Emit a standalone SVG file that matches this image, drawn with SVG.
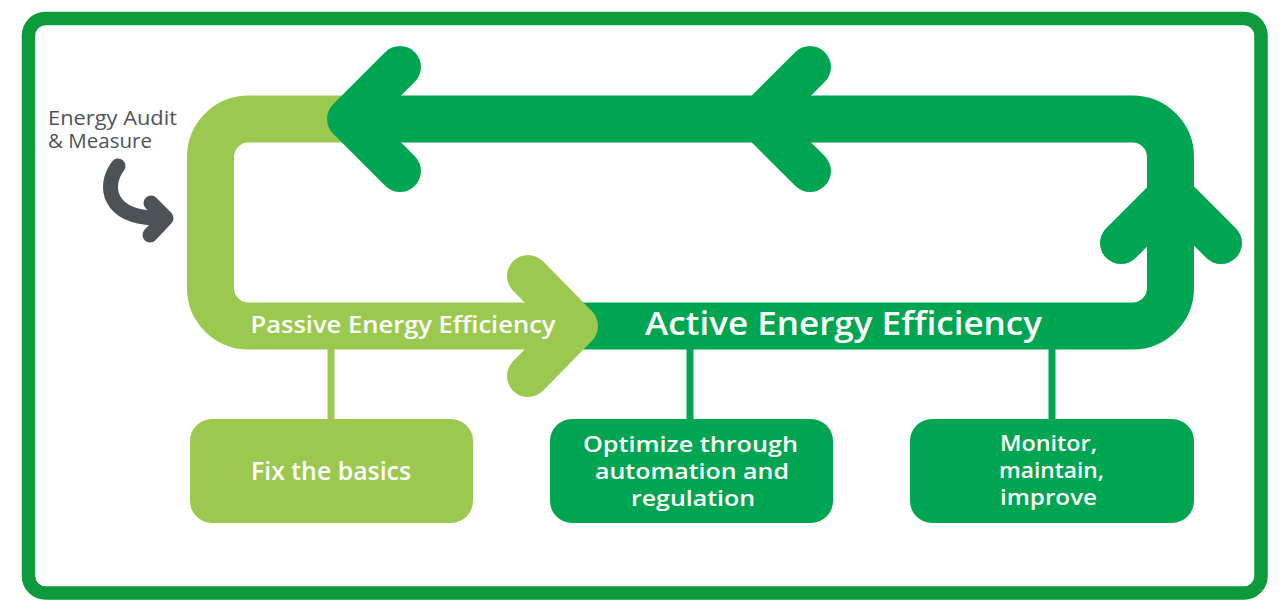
<svg xmlns="http://www.w3.org/2000/svg" width="1283" height="615" viewBox="0 0 1283 615">
  <defs>
    <style>
      .band { fill: none; stroke-width: 47; stroke-linejoin: round; }
      .chev { fill: none; stroke-width: 42; stroke-linecap: round; stroke-linejoin: round; }
      .light { stroke: #9bc94f; }
      .dark { stroke: #00a551; }
      .conn { stroke-width: 7; fill: none; }
      .box-l { fill: #9bc94f; }
      .box-d { fill: #00a551; }
      .t { font-family: "Open Sans", "Liberation Sans", sans-serif; fill: #ffffff; text-anchor: middle; font-weight: 600; }
      .gray { font-family: "Open Sans", "Liberation Sans", sans-serif; fill: #4f5358; font-size: 20px; font-weight: 500; }
    </style>
  </defs>
  <rect width="1283" height="615" fill="#ffffff"/>
  <rect id="frame" x="28.5" y="18.5" width="1232.5" height="574.5" rx="17" ry="17" fill="none" stroke="#0d9a3a" stroke-width="13.5"/>

  <g id="connectors">
    <line class="conn light" x1="331" y1="340" x2="331" y2="425"/>
    <line class="conn dark" x1="690" y1="340" x2="690" y2="425"/>
    <line class="conn dark" x1="1052" y1="340" x2="1052" y2="425"/>
  </g>

  <g id="loop">
    <path class="band light" d="M 352 119 H 248.5 A 38 38 0 0 0 210.5 157 V 288 A 38 38 0 0 0 248.5 326 H 575"/>
    <path class="band dark" d="M 560 326 H 1132.5 A 38 38 0 0 0 1170.5 288 V 157 A 38 38 0 0 0 1132.5 119 H 347"/>
    <polyline class="chev dark" points="400,67 348,119 400,171"/>
    <polyline class="chev dark" points="810,67 758,119 810,171"/>
    <polyline class="chev dark" points="1121,243 1171,193 1221,243"/>
    <polyline class="chev light" points="528,276 577,326 528,376"/>
  </g>

  <g id="label-passive">
    <text class="t" x="403" y="333" font-size="24" textLength="305" lengthAdjust="spacingAndGlyphs">Passive Energy Efficiency</text>
  </g>
  <g id="label-active">
    <text class="t" x="843.5" y="335" font-size="32" font-weight="500" textLength="397" lengthAdjust="spacingAndGlyphs">Active Energy Efficiency</text>
  </g>

  <g id="audit">
    <text class="gray" x="48" y="125" textLength="129" lengthAdjust="spacingAndGlyphs">Energy Audit</text>
    <text class="gray" x="48" y="148" textLength="104" lengthAdjust="spacingAndGlyphs">&amp; Measure</text>
    <path d="M 118 166 C 103 186 108 217 156 218" fill="none" stroke="#4d5257" stroke-width="15" stroke-linecap="round"/>
    <polyline points="151,203 166,218 150,235" fill="none" stroke="#4d5257" stroke-width="15" stroke-linecap="round" stroke-linejoin="round"/>
  </g>

  <g id="box-fix">
    <rect class="box-l" x="190" y="419" width="283" height="104" rx="22" ry="22"/>
    <text class="t" x="331" y="480" font-size="25" textLength="160" lengthAdjust="spacingAndGlyphs">Fix the basics</text>
  </g>

  <g id="box-optimize">
    <rect class="box-d" x="550" y="419" width="283" height="104" rx="22" ry="22"/>
    <text class="t" x="690.5" y="452" font-size="22" textLength="215" lengthAdjust="spacingAndGlyphs">Optimize through</text>
    <text class="t" x="692" y="479" font-size="22" textLength="194" lengthAdjust="spacingAndGlyphs">automation and</text>
    <text class="t" x="693" y="506" font-size="22" textLength="124" lengthAdjust="spacingAndGlyphs">regulation</text>
  </g>

  <g id="box-monitor">
    <rect class="box-d" x="910" y="419" width="284" height="104" rx="22" ry="22"/>
    <text class="t" x="1048.5" y="451" font-size="22" textLength="97" lengthAdjust="spacingAndGlyphs">Monitor,</text>
    <text class="t" x="1051.5" y="478" font-size="22" textLength="105" lengthAdjust="spacingAndGlyphs">maintain,</text>
    <text class="t" x="1048.5" y="505" font-size="22" textLength="97" lengthAdjust="spacingAndGlyphs">improve</text>
  </g>
</svg>
